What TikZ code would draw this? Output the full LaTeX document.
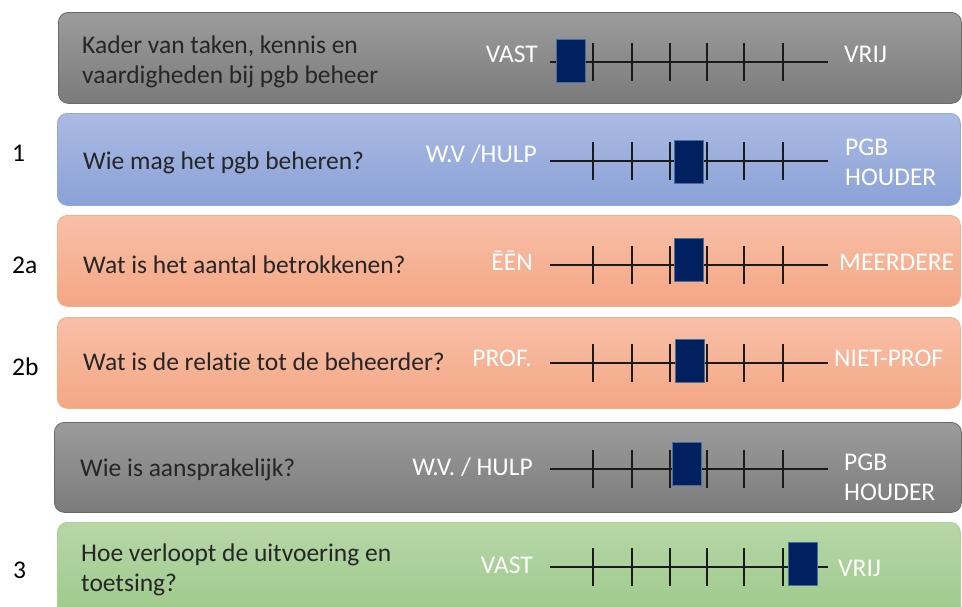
\documentclass[tikz,border=0pt]{standalone}
\usepackage{fontspec}
\setmainfont[Ligatures=NoCommon]{Carlito}
\definecolor{greyT}{HTML}{9C9C9C}
\definecolor{greyB}{HTML}{7B7B7B}
\definecolor{greyD}{HTML}{6A6A6A}
\definecolor{blueT}{HTML}{ABBAE2}
\definecolor{blueB}{HTML}{8AA2D8}
\definecolor{blueD}{HTML}{8FAADC}
\definecolor{oranT}{HTML}{F8C0A8}
\definecolor{oranB}{HTML}{F4A684}
\definecolor{oranD}{HTML}{F4B183}
\definecolor{greenT}{HTML}{B6D7A8}
\definecolor{greenB}{HTML}{9DC889}
\definecolor{greenD}{HTML}{A9D18E}
\definecolor{darktxt}{HTML}{262626}
\definecolor{linec}{HTML}{1A1A1A}
\definecolor{navy}{HTML}{002060}
\definecolor{sliderD}{HTML}{41719C}
\newcommand{\sliderrow}[4]{%
  \coordinate (#1L) at (550,#2);
  \coordinate (#1R) at (828,#2);
  \draw[scaleline] (#1L) -- (#1R);
  \foreach \tx in {593,632,670,707,744,783} \draw[tickmark] (\tx,#2-19) -- (\tx,#2+19);
  \node[slider] (#1S) at (#3,#4) {};
}
\begin{document}
\begin{tikzpicture}[x=1pt,y=-1pt,
  every node/.style={font=\fontsize{25.5}{30}\selectfont},
  panel/.style={draw, line width=0.8pt, rounded corners=10pt, inner sep=0pt, anchor=north west, minimum width=903pt},
  greypanel/.style={panel, top color=greyT, bottom color=greyB, draw=greyD},
  bluepanel/.style={panel, top color=blueT, bottom color=blueB, draw=blueD},
  oranpanel/.style={panel, top color=oranT, bottom color=oranB, draw=oranD},
  greenpanel/.style={panel, top color=greenT, bottom color=greenB, draw=greenD},
  qtext/.style={text=darktxt, anchor=base west, align=left, inner sep=0pt},
  lbl/.style={text=white, anchor=base east, inner sep=0pt},
  rlbl/.style={text=white, anchor=base west, align=left, inner sep=0pt},
  num/.style={text=black, anchor=base west, inner sep=0pt},
  scaleline/.style={draw=linec, line width=1.6pt},
  tickmark/.style={draw=linec, line width=1.6pt},
  slider/.style={draw=sliderD, fill=navy, line width=1pt, minimum width=29pt, minimum height=43pt, inner sep=0pt},
]
\useasboundingbox (0,0) rectangle (962,606);
\clip (0,0) rectangle (962,606);

% panels
\node[greypanel, minimum height=91pt] (p0) at (58,12) {};
\node[bluepanel, minimum height=92pt] (p1) at (57,113) {};
\node[oranpanel, minimum height=91pt] (p2a) at (57,215) {};
\node[oranpanel, minimum height=91pt] (p2b) at (57,317) {};
\node[greypanel, minimum height=90pt, minimum width=907pt] (p4) at (54,422) {};
\node[greenpanel, minimum height=100pt] (p3) at (57,522) {};

% numbers
\node[num] (n1) at (12,161) {1};
\node[num] (n2a) at (12,273) {2a};
\node[num] (n2b) at (12,375) {2b};
\node[num] (n3) at (13,578) {3};

% questions (base anchor = baseline of last line)
\node[qtext] (q0) at (82,83) {Kader van taken, kennis en\\vaardigheden bij pgb beheer};
\node[qtext] (q1) at (83,169) {Wie mag het pgb beheren?};
\node[qtext] (q2a) at (83,273) {Wat is het aantal betrokkenen?};
\node[qtext] (q2b) at (83,370) {Wat is de relatie tot de beheerder?};
\node[qtext] (q4) at (80,476) {Wie is aansprakelijk?};
\node[qtext] (q3) at (81,591) {Hoe verloopt de uitvoering en\\toetsing?};

% scales
\sliderrow{s0}{62}{571}{61}
\sliderrow{s1}{161}{688.5}{161.5}
\sliderrow{s2a}{265}{688.5}{260}
\sliderrow{s2b}{363}{689.5}{360.5}
\sliderrow{s4}{469}{686.5}{463.5}
\sliderrow{s3}{567}{803}{564}

% left labels
\node[lbl] (a0) at (538,62) {VAST};
\node[lbl] (a1) at (537,162) {W.V /HULP};
\node[lbl] (a2a) at (533,270) {ĒĒN};
\node[lbl] (a2b) at (532,366) {PROF.};
\node[lbl] (a4) at (533,475) {W.V. / HULP};
\node[lbl] (a3) at (533,573) {VAST};

% right labels
\node[rlbl] (b0) at (844,62) {VRIJ};
\node[rlbl] (b1) at (845,185) {PGB\\HOUDER};
\node[rlbl] (b2a) at (839,270) {MEERDERE};
\node[rlbl] (b2b) at (834,366) {NIET-PROF};
\node[rlbl] (b4) at (844,500) {PGB\\HOUDER};
\node[rlbl] (b3) at (838,576) {VRIJ};
\end{tikzpicture}
\end{document}
